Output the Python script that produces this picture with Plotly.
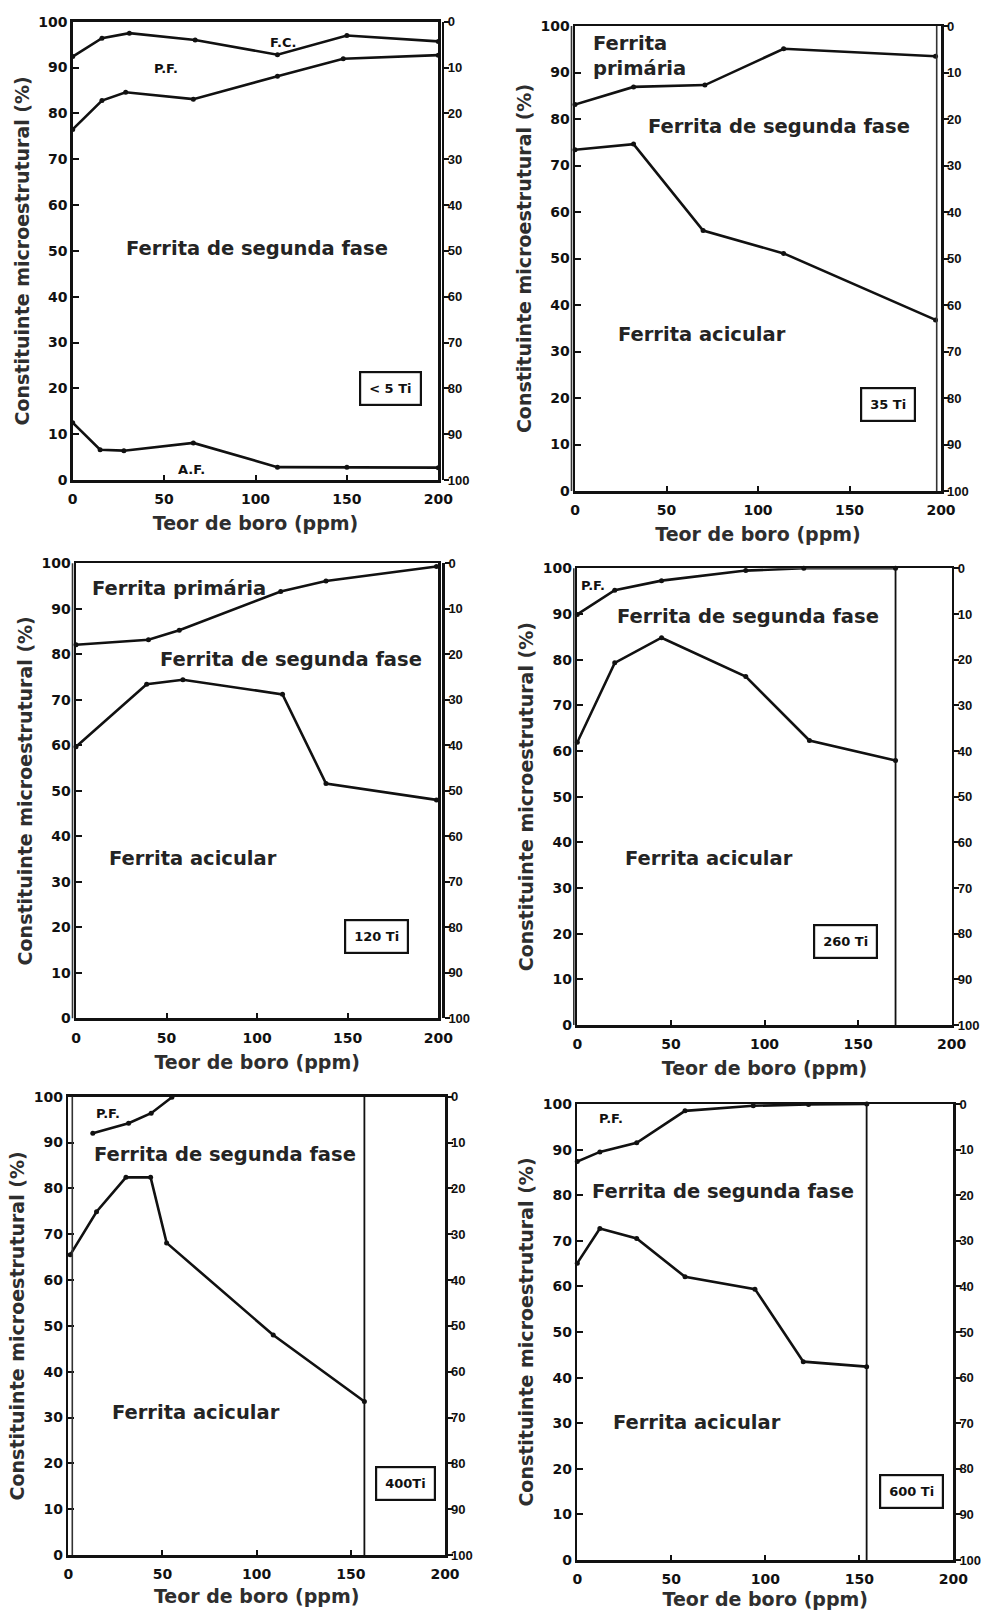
import plotly.graph_objects as go

# ---------------- data ----------------
boro_ticks = [0, 50, 100, 150, 200]
pct_ticks = [0, 10, 20, 30, 40, 50, 60, 70, 80, 90, 100]
ti_labels = ["< 5 Ti", "35 Ti", "120 Ti", "260 Ti", "400Ti", "600 Ti"]

# Panel 1 (<5 Ti)
p1_x_fc = [0, 16, 31, 67, 112, 150, 200]
p1_fc = [92.4, 96.4, 97.5, 96.0, 92.8, 97.0, 95.7]
p1_x_pf = [0, 16, 29, 66, 112, 148, 200]
p1_pf = [76.5, 82.8, 84.6, 83.1, 88.1, 91.9, 92.7]
p1_x_af = [0, 15, 28, 66, 112, 150, 200]
p1_af = [12.5, 6.6, 6.4, 8.1, 2.8, 2.8, 2.7]

# Panel 2 (35 Ti)
p2_x_top = [0, 32, 71, 114, 197]
p2_top = [83.1, 86.9, 87.3, 95.1, 93.5]
p2_x_low = [0, 32, 70, 114, 197]
p2_low = [73.4, 74.6, 56.0, 51.1, 36.8]

# Panel 3 (120 Ti)
p3_x_top = [0, 40, 57, 113, 138, 199]
p3_top = [82.1, 83.2, 85.3, 93.8, 96.1, 99.3]
p3_x_low = [0, 39, 59, 114, 138, 199]
p3_low = [59.7, 73.4, 74.4, 71.2, 51.6, 48.0]

# Panel 4 (260 Ti)
p4_x_top = [0, 20, 45, 90, 121, 170]
p4_top = [89.9, 95.2, 97.3, 99.5, 100, 100]
p4_x_low = [0, 20, 45, 90, 124, 170]
p4_low = [61.9, 79.3, 84.8, 76.3, 62.3, 57.9]
p4_cut = 170

# Panel 5 (400 Ti)
p5_x_top = [13, 32, 44, 55]
p5_top = [92.0, 94.2, 96.4, 99.9]
p5_x_low = [1, 15, 30.6, 43.7, 52.2, 108.8, 157.2]
p5_low = [65.5, 74.9, 82.4, 82.4, 68.1, 48.0, 33.5]
p5_cut = 157.2

# Panel 6 (600 Ti)
p6_x_top = [0, 12, 31.6, 57.3, 93.6, 123, 154]
p6_top = [87.4, 89.5, 91.5, 98.5, 99.6, 99.9, 100]
p6_x_low = [0, 12, 31.6, 57.3, 94.5, 120.2, 153.9]
p6_low = [65.1, 72.7, 70.5, 62.1, 59.4, 43.5, 42.4]
p6_cut = 153.9

series = [
    [(p1_x_fc, p1_fc), (p1_x_pf, p1_pf), (p1_x_af, p1_af)],
    [(p2_x_top, p2_top), (p2_x_low, p2_low)],
    [(p3_x_top, p3_top), (p3_x_low, p3_low)],
    [(p4_x_top, p4_top), (p4_x_low, p4_low)],
    [(p5_x_top, p5_top), (p5_x_low, p5_low)],
    [(p6_x_top, p6_top), (p6_x_low, p6_low)],
]
cutoffs = [None, None, None, p4_cut, p5_cut, p6_cut]

# region labels: (text, x, y, size, anchor)
region_labels = [
    [("Ferrita de segunda fase", 28, 50.5, "big", "left"),
     ("F.C.", 115, 95.5, "small", "center"),
     ("P.F.", 51, 89.8, "small", "center"),
     ("A.F.", 65, 2.3, "small", "center")],
    [("Ferrita<br>primária", 9, 93.5, "big", "left"),
     ("Ferrita de segunda fase", 39, 78.4, "big", "left"),
     ("Ferrita acicular", 22.5, 33.6, "big", "left")],
    [("Ferrita primária", 7.7, 94.5, "big", "left"),
     ("Ferrita de segunda fase", 45.4, 78.8, "big", "left"),
     ("Ferrita acicular", 17, 35.2, "big", "left")],
    [("P.F.", 8.5, 96.3, "small", "center"),
     ("Ferrita de segunda fase", 20, 89.5, "big", "left"),
     ("Ferrita acicular", 24.5, 36.4, "big", "left")],
    [("P.F.", 21, 96.3, "small", "center"),
     ("Ferrita de segunda fase", 12.4, 87.3, "big", "left"),
     ("Ferrita acicular", 22, 31, "big", "left")],
    [("P.F.", 18, 96.9, "small", "center"),
     ("Ferrita de segunda fase", 7, 80.8, "big", "left"),
     ("Ferrita acicular", 17.8, 30.2, "big", "left")],
]
box_pos = [(174.1, 19.9), (170.8, 18.7), (166, 17.9), (143, 18.3), (178.8, 15.5), (177.8, 15.1)]

# ---------------- layout geometry (pixels) ----------------
W, H = 985, 1616
boxes = [(72.7, 438.3, 21.7, 480), (575, 941, 26, 491), (76, 438.3, 563.3, 1018.3),
         (577.3, 951.7, 568.3, 1025), (68.3, 445, 1096.7, 1555), (577.3, 953.3, 1104, 1560)]
# outer right-axis line (scan shows doubled frame) for panels 1 and 3
outer_right = [442.7, None, 443.3, None, None, None]
# extra frame line offsets (pixels, relative to domain edge)
extra_left = [None, -3.5, -3.5, -3.5, 4, None]
extra_right = [None, -4.3, None, None, None, None]
xtitle_standoff = [11, 11, 11, 11, 9, 7]

INK = "#111111"
TXT = "#242424"
big_font = dict(family="DejaVu Sans", size=19.5, color=TXT, weight="bold")
title_font = dict(family="DejaVu Sans", size=19, color="#2e2e2e", weight="bold")
small_font = dict(family="DejaVu Sans", size=13, color=INK, weight="bold")
tick_font = dict(family="DejaVu Sans", size=14, color=INK, weight="bold")
rtick_font = dict(family="Liberation Sans", size=13, color=INK, weight="bold")

fig = go.Figure()
layout = dict(width=W, height=H, margin=dict(l=0, r=0, t=0, b=0),
              paper_bgcolor="white", plot_bgcolor="white", showlegend=False)
annotations = []
shapes = []


def nm(kind, i):
    return kind if i == 1 else f"{kind}{i}"


for k in range(6):
    i = k + 1
    j = k + 7
    x0, x1, y0, y1 = boxes[k]
    xd = [x0 / W, x1 / W]
    yd = [1 - y1 / H, 1 - y0 / H]
    xa, ya, yr = nm("x", i), nm("y", i), nm("y", j)
    wpx = x1 - x0

    layout["xaxis" if i == 1 else f"xaxis{i}"] = dict(
        domain=xd, anchor=ya, range=[0, 200], tickvals=boro_ticks,
        ticks="inside", ticklen=5, tickwidth=2, tickcolor=INK, ticklabelstandoff=5,
        showline=True, linewidth=2.5, linecolor=INK, mirror=True,
        showgrid=False, zeroline=False, tickfont=tick_font, automargin=False,
        title=dict(text="Teor de boro (ppm)", font=title_font, standoff=xtitle_standoff[k]),
        fixedrange=True)
    layout["yaxis" if i == 1 else f"yaxis{i}"] = dict(
        domain=yd, anchor=xa, range=[0, 100], tickvals=pct_ticks,
        ticks="inside", ticklen=6, tickwidth=2, tickcolor=INK,
        showline=True, linewidth=2.5, linecolor=INK, mirror=True,
        showgrid=False, zeroline=False, tickfont=tick_font, automargin=False,
        title=dict(text="Constituinte microestrutural (%)", font=title_font, standoff=4),
        fixedrange=True)
    ry = dict(
        domain=yd, overlaying=ya, side="right", range=[100, 0],
        tickvals=pct_ticks, ticks="outside", ticklen=5, tickwidth=2, tickcolor=INK,
        ticklabelstandoff=-4,
        showline=True, linewidth=2.5, linecolor=INK,
        showgrid=False, zeroline=False, tickfont=rtick_font, automargin=False,
        fixedrange=True)
    if outer_right[k] is not None:
        ry.update(anchor="free", position=outer_right[k] / W)
    else:
        ry.update(anchor=xa)
    layout[f"yaxis{j}"] = ry

    for xs, ys in series[k]:
        fig.add_trace(go.Scatter(x=xs, y=ys, xaxis=xa, yaxis=ya, mode="lines+markers",
                                 line=dict(color=INK, width=2.6),
                                 marker=dict(size=5, color=INK),
                                 hoverinfo="skip", cliponaxis=False))
    if cutoffs[k] is not None:
        fig.add_trace(go.Scatter(x=[cutoffs[k], cutoffs[k]], y=[0, 100], xaxis=xa, yaxis=ya,
                                 mode="lines", line=dict(color=INK, width=1.8),
                                 hoverinfo="skip"))
    # empty trace so the right-hand axis is drawn
    fig.add_trace(go.Scatter(x=[None], y=[None], xaxis=xa, yaxis=yr, mode="lines",
                             hoverinfo="skip"))

    for text, tx, ty, size, anc in region_labels[k]:
        annotations.append(dict(text=text, x=tx, y=ty, xref=xa, yref=ya, showarrow=False,
                                xanchor=anc, yanchor="middle", align="left",
                                font=big_font if size == "big" else small_font))
    bx, by = box_pos[k]
    annotations.append(dict(text=ti_labels[k], x=bx, y=by, xref=xa, yref=ya, showarrow=False,
                            xanchor="center", yanchor="middle",
                            font=dict(family="DejaVu Sans", size=13, color=INK, weight="bold"),
                            bordercolor=INK, borderwidth=2.2, borderpad=8, bgcolor="white"))

    # doubled frame lines typical of the scanned original
    if extra_left[k] is not None:
        xx = extra_left[k] / wpx
        shapes.append(dict(type="line", xref=f"{xa} domain", yref=f"{ya} domain",
                           x0=xx, x1=xx, y0=0, y1=1, line=dict(color="#333333", width=1.6)))
    if extra_right[k] is not None:
        xx = 1 + extra_right[k] / wpx
        shapes.append(dict(type="line", xref=f"{xa} domain", yref=f"{ya} domain",
                           x0=xx, x1=xx, y0=0, y1=1, line=dict(color="#333333", width=1.6)))

layout["annotations"] = annotations
layout["shapes"] = shapes
fig.update_layout(**layout)
fig.write_html("out.html",
               config={"displayModeBar": False, "staticPlot": True},
               post_script="document.body.style.margin='0';document.body.style.overflow='hidden';")
